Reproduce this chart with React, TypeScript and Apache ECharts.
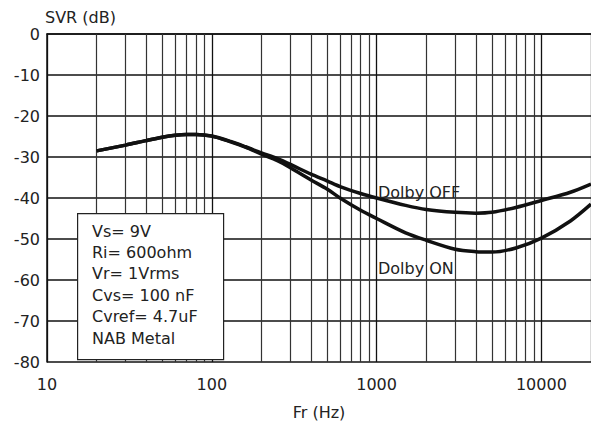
import React, { useEffect, useRef } from "react";
import * as echarts from "echarts";

const freqs = [20, 30, 40, 50, 60, 70, 80, 100, 130, 160, 200, 250, 300, 400, 500, 600, 800, 1000, 1500, 2000, 3000, 4000, 5000, 7000, 10000, 15000, 20000];
const dolbyOff = [-28.5, -27.1, -26.0, -25.2, -24.7, -24.5, -24.5, -24.9, -26.2, -27.5, -29.0, -30.4, -31.8, -34.2, -35.8, -37.2, -38.9, -40.0, -41.8, -42.8, -43.5, -43.7, -43.5, -42.3, -40.6, -38.6, -36.6];
const dolbyOn = [-28.5, -27.1, -26.0, -25.2, -24.7, -24.5, -24.5, -24.9, -26.3, -27.6, -29.3, -30.9, -32.6, -35.6, -37.8, -40.0, -43.0, -45.0, -48.5, -50.3, -52.5, -53.1, -53.2, -52.2, -49.8, -45.6, -41.5];
const minorGrid = [20, 30, 40, 50, 60, 70, 80, 90, 200, 300, 400, 500, 600, 700, 800, 900, 2000, 3000, 4000, 5000, 6000, 7000, 8000, 9000];
const yTicks = [0, -10, -20, -30, -40, -50, -60, -70, -80];
const boxLines = ["Vs= 9V", "Ri= 600ohm", "Vr= 1Vrms", "Cvs= 100 nF", "Cvref= 4.7uF", "NAB Metal"];

const FONT = "'DejaVu Sans', 'Liberation Sans', Arial, sans-serif";

export default function App() {
  const ref = useRef<HTMLDivElement>(null);
  useEffect(() => {
    if (!ref.current) return;
    const chart = echarts.init(ref.current, undefined, { renderer: "svg" });
    const toPairs = (ys: number[]) => freqs.map((f, i) => [f, ys[i]]);
    chart.setOption({
      animation: false,
      backgroundColor: "#fff",
      grid: { left: 47, right: 0, top: 34, bottom: 53, containLabel: false },
      xAxis: {
        type: "log",
        logBase: 10,
        min: 10,
        max: 20000,
        name: "Fr (Hz)",
        nameLocation: "middle",
        nameGap: 42,
        nameTextStyle: { fontFamily: FONT, fontSize: 16, color: "#222" },
        axisLine: { show: true, lineStyle: { color: "#111", width: 1.5 } },
        axisTick: { show: false },
        axisLabel: {
          margin: 14,
          fontFamily: FONT,
          fontSize: 16,
          color: "#222",
          showMaxLabel: false,
          formatter: (v: number) => {
            const l = Math.log10(v);
            return Math.abs(l - Math.round(l)) < 1e-6 ? String(Math.round(v)) : "";
          },
        },
        splitLine: { show: true, lineStyle: { color: "#111", width: 1.3 } },
      },
      yAxis: {
        type: "value",
        min: -80,
        max: 0,
        interval: 10,
        axisLine: { show: true, lineStyle: { color: "#111", width: 1.5 } },
        axisTick: { show: false },
        axisLabel: {
          margin: 7,
          fontFamily: FONT,
          fontSize: 16,
          color: "#222",
          formatter: (v: number) => (yTicks.includes(v) ? String(v) : ""),
        },
        splitLine: { show: true, lineStyle: { color: "#111", width: 1.5 } },
      },
      series: [
        {
          type: "line",
          name: "Dolby OFF",
          data: toPairs(dolbyOff),
          smooth: 0.3,
          showSymbol: false,
          lineStyle: { color: "#111", width: 3.5 },
          z: 5,
          markLine: {
            silent: true,
            symbol: "none",
            label: { show: false },
            lineStyle: { color: "#333", width: 1.2, type: "solid" },
            data: minorGrid.map((f) => ({ xAxis: f })),
            z: 1,
          },
        },
        {
          type: "line",
          name: "Dolby ON",
          data: toPairs(dolbyOn),
          smooth: 0.3,
          showSymbol: false,
          lineStyle: { color: "#111", width: 3.5 },
          z: 5,
        },
      ],
      graphic: [
        {
          type: "text",
          left: 45,
          top: 9,
          style: { text: "SVR (dB)", font: `16px ${FONT}`, fill: "#222" },
        },
        {
          type: "text",
          left: 378,
          top: 184,
          style: { text: "Dolby OFF", font: `16px ${FONT}`, fill: "#222" },
          z: 10,
        },
        {
          type: "text",
          left: 378,
          top: 260,
          style: { text: "Dolby ON", font: `16px ${FONT}`, fill: "#222" },
          z: 10,
        },
        {
          type: "rect",
          left: 77,
          top: 213,
          shape: { width: 146, height: 146 },
          style: { fill: "#fff", stroke: "#222", lineWidth: 1.2 },
          z: 20,
        },
        ...boxLines.map((t, i) => ({
          type: "text",
          left: 92,
          top: 223 + i * 21.4,
          style: { text: t, font: `16px ${FONT}`, fill: "#222" },
          z: 21,
        })),
      ],
    });
    return () => chart.dispose();
  }, []);
  return <div ref={ref} style={{ position: "fixed", left: 0, top: 0, width: 591, height: 425 }} />;
}
